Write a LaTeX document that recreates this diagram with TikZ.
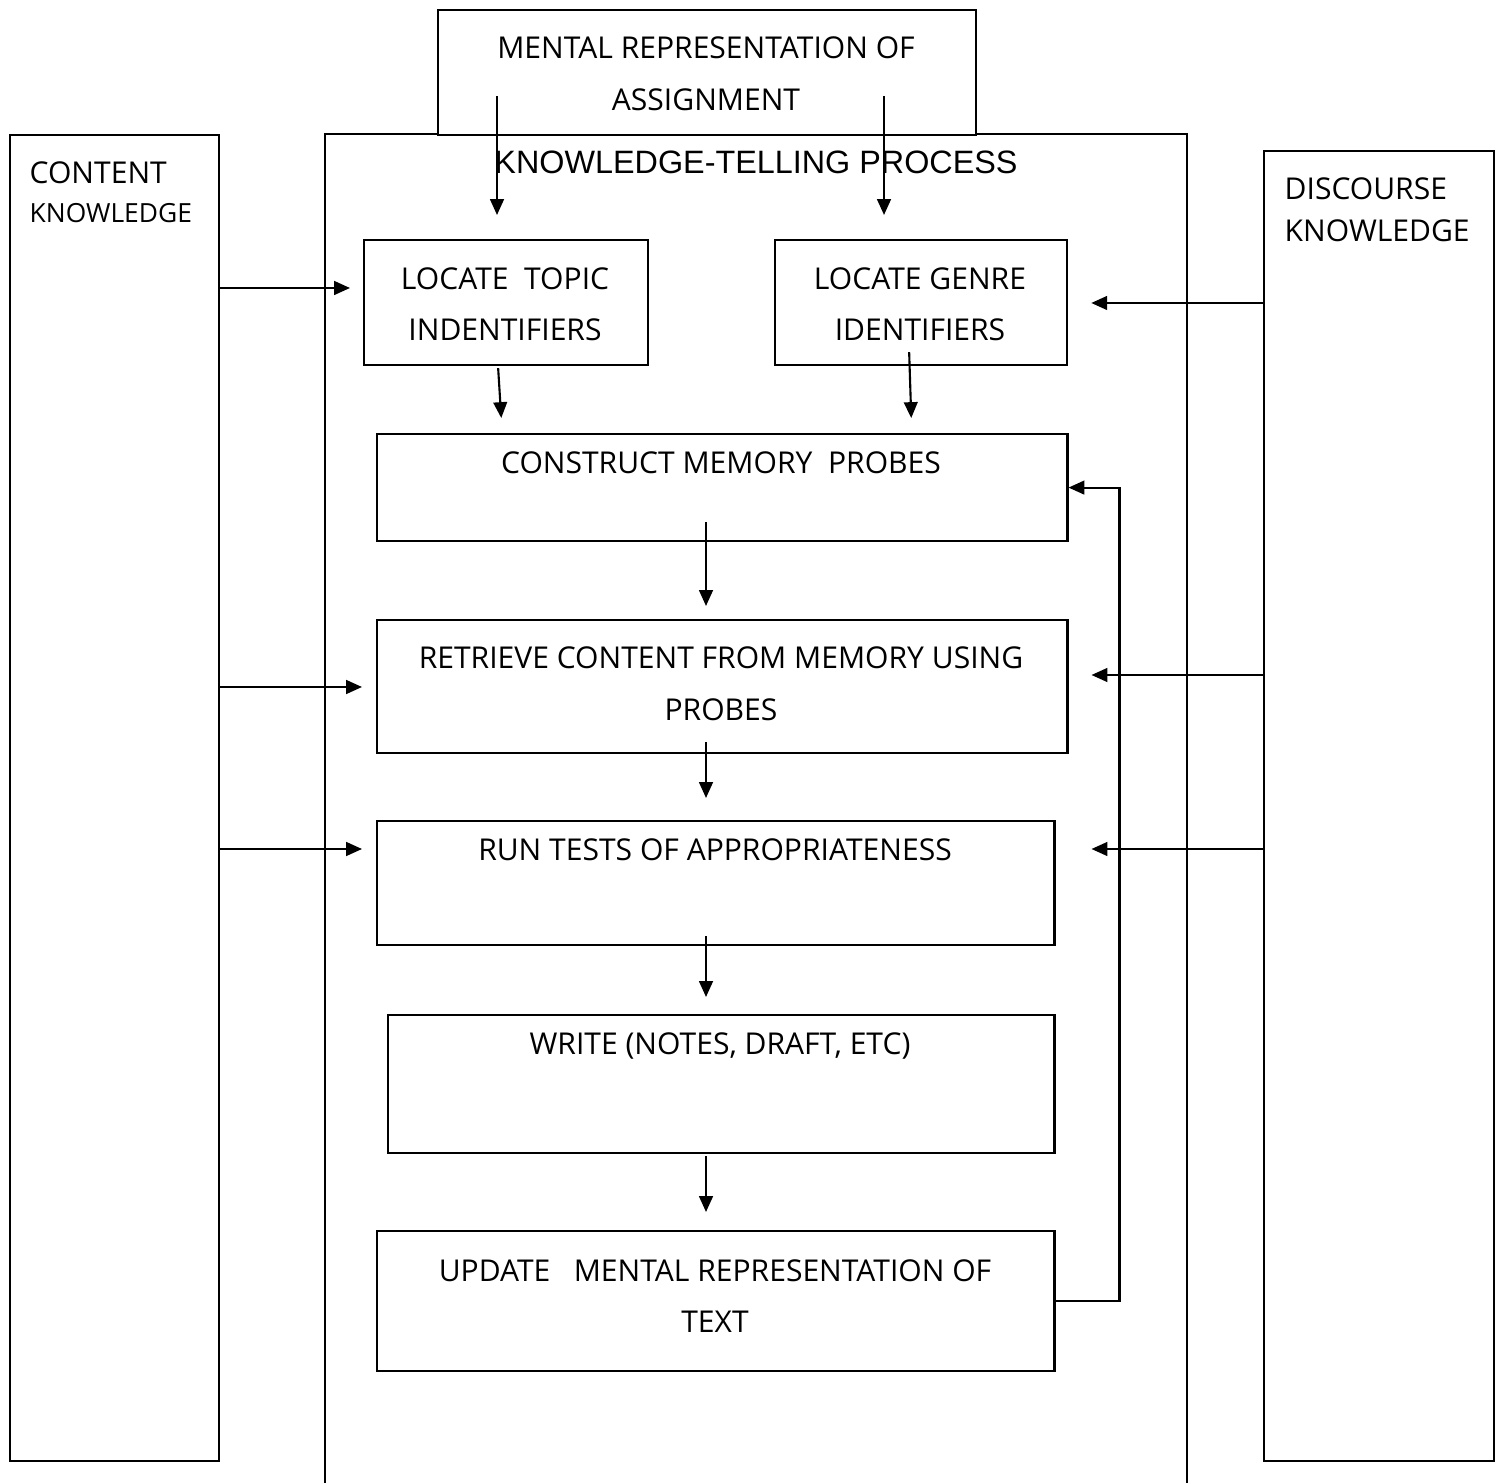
\documentclass[tikz,border=0pt]{standalone}
\usepackage{fontspec}
\setmainfont{Open Sans}
\newfontfamily\headfont{Liberation Sans}
\usetikzlibrary{arrows.meta, calc}

\begin{document}
\begin{tikzpicture}[x=0.01cm, y=-0.01cm,
    box/.style={draw, line width=0.6pt, anchor=north west, inner sep=0pt},
    txt/.style={anchor=base, inner sep=0pt, font=\fontsize{8.55}{10}\selectfont},
    lefttxt/.style={txt, anchor=base west},
    arr/.style={-{Triangle[length=4.5pt, width=3.9pt]}, line width=0.6pt}]
    \useasboundingbox (0,0) rectangle (1501,1483);

    % Process frame (runs off the page at the bottom)
    \draw[line width=0.6pt] (325,1495) |- (1187,134) -- (1187,1495);
    \node[txt, font=\headfont\fontsize{9.2}{12}\selectfont] (title) at (756,174) {KNOWLEDGE-TELLING PROCESS};

    % Assignment
    \node[box, fill=white, minimum width=5.38cm, minimum height=1.25cm] (assign) at (437,9) {};
    \node[txt] (assign1) at (706,59) {MENTAL REPRESENTATION OF};
    \node[txt] (assign2) at (706,111) {ASSIGNMENT};

    % Knowledge stores
    \node[box, minimum width=2.09cm, minimum height=13.25cm] (content) at (9,134) {};
    \node[lefttxt] (content1) at (29,184) {CONTENT};
    \node[lefttxt, font=\fontsize{7.5}{9}\selectfont] (content2) at (29,223) {KNOWLEDGE};
    \node[box, minimum width=2.30cm, minimum height=13.09cm] (discourse) at (1263,150) {};
    \node[lefttxt] (discourse1) at (1284,200) {DISCOURSE};
    \node[lefttxt] (discourse2) at (1284,242) {KNOWLEDGE};

    % Locate boxes
    \node[box, minimum width=2.84cm, minimum height=1.25cm] (topic) at (363,239) {};
    \node[txt] (topic1) at (505,290) {LOCATE\ \ TOPIC};
    \node[txt] (topic2) at (505,341) {INDENTIFIERS};
    \node[box, minimum width=2.92cm, minimum height=1.25cm] (genre) at (774,239) {};
    \node[txt] (genre1) at (920,290) {LOCATE GENRE};
    \node[txt] (genre2) at (920,341) {IDENTIFIERS};

    % Steps
    \node[box, minimum width=6.90cm, minimum height=1.07cm] (construct) at (376,433) {};
    \node[txt] (construct1) at (721,474) {CONSTRUCT MEMORY\ \ PROBES};
    \node[box, minimum width=6.90cm, minimum height=1.33cm] (retrieve) at (376,619) {};
    \node[txt] (retrieve1) at (721,669) {RETRIEVE CONTENT FROM MEMORY USING};
    \node[txt] (retrieve2) at (721,721) {PROBES};
    \node[box, minimum width=6.77cm, minimum height=1.24cm] (tests) at (376,820) {};
    \node[txt] (tests1) at (715,860) {RUN TESTS OF APPROPRIATENESS};
    \node[box, minimum width=6.66cm, minimum height=1.38cm] (write) at (387,1014) {};
    \node[txt] (write1) at (720,1054) {WRITE (NOTES, DRAFT, ETC)};
    \node[box, minimum width=6.77cm, minimum height=1.40cm] (update) at (376,1230) {};
    \node[txt] (update1) at (715,1281) {UPDATE\ \ \ MENTAL REPRESENTATION OF};
    \node[txt] (update2) at (715,1332) {TEXT};

    % Assignment arrows
    \coordinate (spineA) at (497,96);
    \coordinate (spineB) at (884,96);
    \draw[arr] (spineA) -- ($(topic.north -| spineA)+(0,-24)$);
    \draw[arr] (spineB) -- ($(genre.north -| spineB)+(0,-24)$);

    % Locate to construct
    \draw[arr] ($(topic.south)+(-8,2)$) -- ($(construct.north)+(-221,-15)$);
    \draw[arr] ($(genre.south)+(-12,-14)$) -- ($(construct.north)+(189,-15)$);

    % Main flow
    \coordinate (spine) at (706,0);
    \draw[arr] ($(construct.south -| spine)+(0,-20)$) -- ($(retrieve.north -| spine)+(0,-13)$);
    \draw[arr] ($(retrieve.south -| spine)+(0,-12)$) -- ($(tests.north -| spine)+(0,-22)$);
    \draw[arr] ($(tests.south -| spine)+(0,-10)$) -- ($(write.north -| spine)+(0,-17)$);
    \draw[arr] ($(write.south -| spine)+(0,2)$) -- ($(update.north -| spine)+(0,-18)$);

    % Feedback loop
    \draw[arr] (update.east) -| ($(construct.east)+(51,0)$) -- (construct.east);

    % Content knowledge arrows
    \draw[arr] (content.east |- 0,288) -- ($(topic.west |- 0,288)+(-13,0)$);
    \draw[arr] (content.east |- 0,687) -- ($(retrieve.west |- 0,687)+(-14,0)$);
    \draw[arr] (content.east |- 0,849) -- ($(tests.west |- 0,849)+(-14,0)$);

    % Discourse knowledge arrows
    \draw[arr] (discourse.west |- 0,303) -- ($(genre.east |- 0,303)+(23,0)$);
    \draw[arr] (discourse.west |- 0,675) -- ($(retrieve.east |- 0,675)+(23,0)$);
    \draw[arr] (discourse.west |- 0,849) -- ($(tests.east |- 0,849)+(36,0)$);
\end{tikzpicture}
\end{document}
